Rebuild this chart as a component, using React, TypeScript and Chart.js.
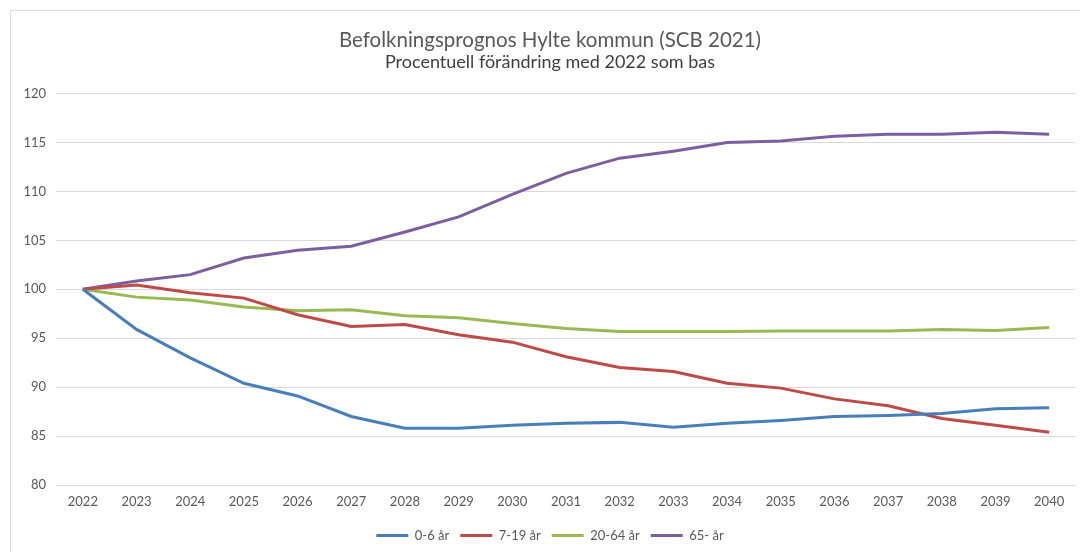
import React, { useEffect, useRef } from "react";
import { Chart, registerables } from "chart.js";

Chart.register(...registerables);

const years = ["2022","2023","2024","2025","2026","2027","2028","2029","2030","2031","2032","2033","2034","2035","2036","2037","2038","2039","2040"];
const age0to6 = [100, 95.9, 93.0, 90.4, 89.1, 87.0, 85.8, 85.8, 86.1, 86.3, 86.4, 85.9, 86.3, 86.6, 87.0, 87.1, 87.3, 87.8, 87.9];
const age7to19 = [100, 100.45, 99.65, 99.1, 97.4, 96.2, 96.4, 95.35, 94.6, 93.1, 92.0, 91.6, 90.4, 89.9, 88.8, 88.1, 86.8, 86.1, 85.4];
const age20to64 = [100, 99.2, 98.9, 98.2, 97.8, 97.9, 97.3, 97.1, 96.5, 96.0, 95.7, 95.7, 95.7, 95.75, 95.75, 95.75, 95.9, 95.8, 96.1];
const age65plus = [100, 100.85, 101.5, 103.2, 104.0, 104.4, 105.85, 107.4, 109.7, 111.85, 113.4, 114.1, 115.0, 115.15, 115.65, 115.85, 115.85, 116.05, 115.85];
const seriesNames = ["0-6 år", "7-19 år", "20-64 år", "65- år"];
const seriesColors = ["#4A7EBB", "#BE4B48", "#98B954", "#7D5FA0"];

const FONT = "Lato, 'Open Sans', sans-serif";
const GREY = "#595959";

export default function App() {
  const ref = useRef<HTMLCanvasElement | null>(null);
  useEffect(() => {
    if (!ref.current) return;
    const values = [age0to6, age7to19, age20to64, age65plus];
    const chart = new Chart(ref.current, {
      type: "line",
      data: {
        labels: years,
        datasets: values.map((v, i) => ({
          label: seriesNames[i],
          data: v,
          borderColor: seriesColors[i],
          backgroundColor: seriesColors[i],
          borderWidth: 3,
          pointRadius: 0,
          tension: 0,
          fill: false,
        })),
      },
      options: {
        animation: false,
        responsive: false,
        maintainAspectRatio: false,
        layout: { padding: { left: 13, right: 17, top: 0, bottom: 0 } },
        plugins: {
          title: {
            display: true,
            text: "Befolkningsprognos Hylte kommun (SCB 2021)",
            color: GREY,
            font: { family: FONT, size: 20.5, weight: "normal", lineHeight: 1.2 },
            padding: { top: 17, bottom: 1 },
          },
          subtitle: {
            display: true,
            text: "Procentuell förändring med 2022 som bas",
            color: "#404040",
            font: { family: FONT, size: 18, weight: "normal", lineHeight: 1.0 },
            padding: { top: 0, bottom: 22 },
          },
          legend: {
            position: "bottom",
            labels: {
              color: GREY,
              font: { family: FONT, size: 13 },
              boxWidth: 32,
              boxHeight: 3,
              padding: 11,
              generateLabels: (c: any) =>
                Chart.defaults.plugins.legend.labels.generateLabels(c).map((l: any) => ({
                  ...l,
                  lineWidth: 0,
                  fillStyle: l.strokeStyle,
                })),
            },
          },
          tooltip: { enabled: false },
        },
        scales: {
          x: {
            offset: true,
            grid: { display: false, drawTicks: false },
            border: { display: false },
            ticks: { color: GREY, font: { family: FONT, size: 13, lineHeight: 1.0 }, padding: 10, maxRotation: 0 },
          },
          y: {
            min: 80,
            max: 120,
            afterFit: (s: any) => { s.width = 32; },
            grid: { color: "#D9D9D9", lineWidth: 1, drawTicks: false },
            border: { display: false },
            ticks: { stepSize: 5, color: GREY, font: { family: FONT, size: 13 }, padding: 10 },
          },
        },
      },
    });
    return () => chart.destroy();
  }, []);

  return (
    <div style={{ position: "fixed", left: 0, top: 0, width: 1080, height: 552, overflow: "hidden", background: "#fff" }}>
      <div style={{ position: "absolute", left: 10, top: 10, width: 1100, height: 600, borderLeft: "1px solid #D9D9D9", borderTop: "1px solid #D9D9D9" }}>
        <canvas ref={ref} width={1082} height={541} style={{ display: "block", width: 1082, height: 541 }} />
      </div>
    </div>
  );
}
